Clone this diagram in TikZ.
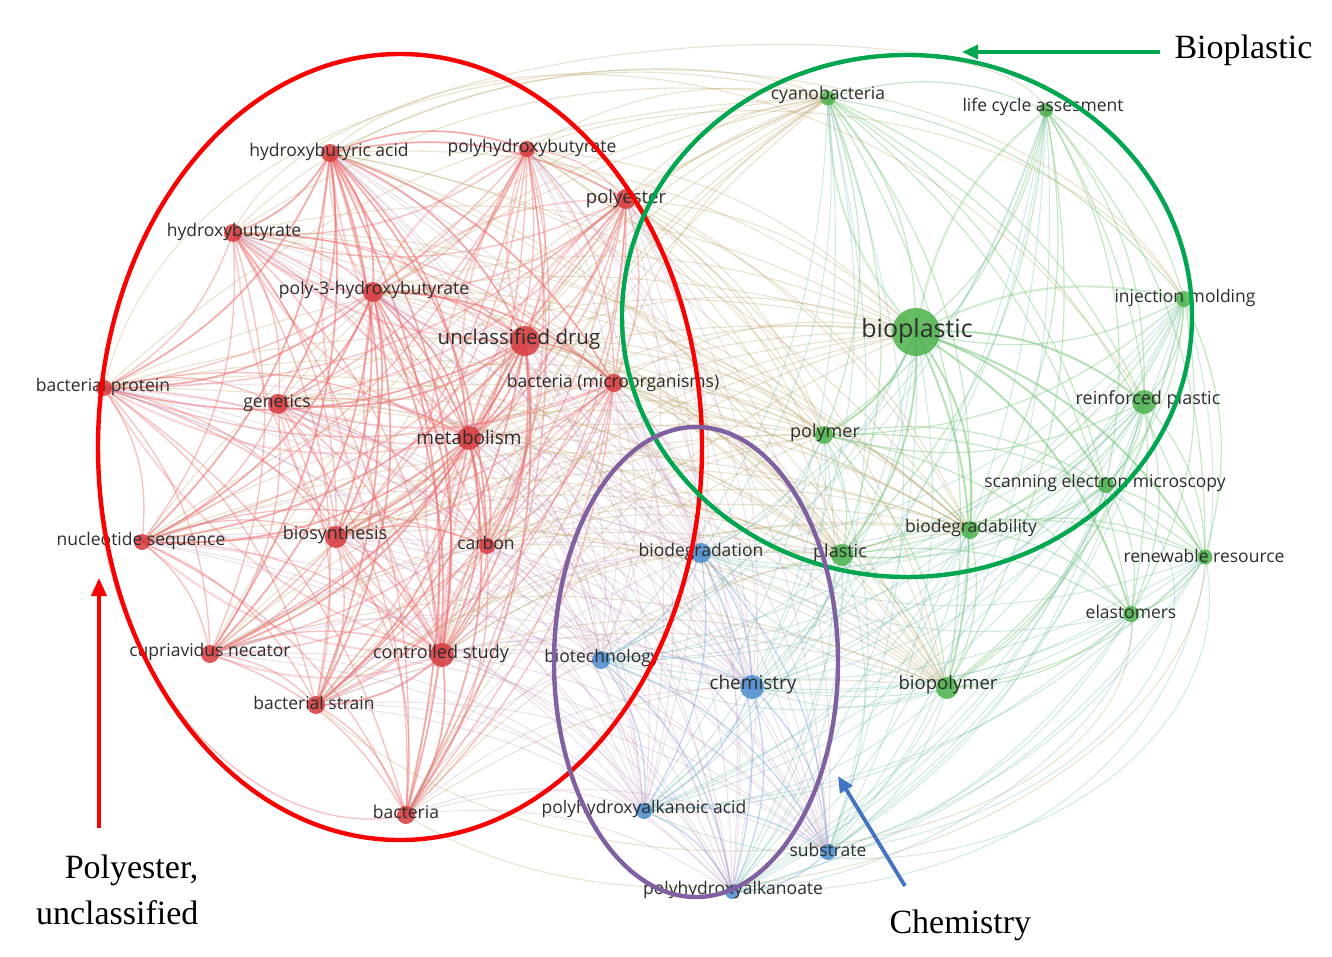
\documentclass[tikz,border=0pt]{standalone}
\usepackage{fontspec}
\setmainfont{Liberation Serif}
\newfontfamily\labfont{Open Sans}
\usetikzlibrary{arrows.meta}
\definecolor{rdot}{RGB}{214,58,62}
\definecolor{gdot}{RGB}{76,178,76}
\definecolor{bdot}{RGB}{74,140,206}
\definecolor{rline}{RGB}{238,105,105}
\definecolor{gline}{RGB}{120,200,120}
\definecolor{bline}{RGB}{130,170,225}
\definecolor{rgline}{RGB}{190,165,105}
\definecolor{rbline}{RGB}{190,150,190}
\definecolor{gbline}{RGB}{120,190,180}
\definecolor{ellred}{RGB}{250,0,0}
\definecolor{ellgreen}{RGB}{0,166,80}
\definecolor{ellpurple}{RGB}{128,96,160}
\definecolor{arrblue}{RGB}{68,114,196}
\definecolor{labtext}{RGB}{45,45,45}
\begin{document}
\begin{tikzpicture}[x=1pt,y=-1pt,
  dotR/.style={circle,fill=rdot,fill opacity=0.85,inner sep=0pt,minimum size=#1},
  dotG/.style={circle,fill=gdot,fill opacity=0.85,inner sep=0pt,minimum size=#1},
  dotB/.style={circle,fill=bdot,fill opacity=0.85,inner sep=0pt,minimum size=#1},
  lbl/.style={font=\labfont\fontsize{#1}{#1}\selectfont,text=labtext,inner sep=0pt},
  lbl/.default=17.5,
  redE/.style={draw=rline,line width=1.3pt,opacity=0.42},
  greenE/.style={draw=gline,line width=1.2pt,opacity=0.42},
  blueE/.style={draw=bline,line width=1.2pt,opacity=0.5},
  rgE/.style={draw=rgline,line width=1.1pt,opacity=0.32},
  rbE/.style={draw=rbline,line width=1pt,opacity=0.3},
  gbE/.style={draw=gbline,line width=1pt,opacity=0.35},
  ell/.style={line width=4.4pt},
  title/.style={font=\fontsize{34}{46}\selectfont,text=black}
]
\useasboundingbox[fill=white] (0,0) rectangle (1332,957);

% ---------- positions ----------
\coordinate (hba) at (330,153);
\coordinate (phb) at (527,149);
\coordinate (pes) at (626,199);
\coordinate (hbr) at (233,233);
\coordinate (p3hb) at (373,292);
\coordinate (ud) at (525,341);
\coordinate (bmo) at (614,383);
\coordinate (bp) at (104,388);
\coordinate (gen) at (278,404);
\coordinate (met) at (469,438);
\coordinate (ns) at (142,542);
\coordinate (bios) at (336,537);
\coordinate (carb) at (487,546);
\coordinate (cn) at (210,654);
\coordinate (cs) at (442,655);
\coordinate (bs) at (316,705);
\coordinate (bact) at (406,815);

\coordinate (cya) at (828,98);
\coordinate (lca) at (1046,110);
\coordinate (inj) at (1184,299);
\coordinate (bio) at (916,332);
\coordinate (rp) at (1144,402);
\coordinate (poly) at (824,435);
\coordinate (sem) at (1106,485);
\coordinate (bdg) at (970,530);
\coordinate (plas) at (842,555);
\coordinate (rr) at (1205,557);
\coordinate (ela) at (1131,614);
\coordinate (biop) at (947,688);

\coordinate (bdn) at (701,553);
\coordinate (btc) at (601,660);
\coordinate (chem) at (752,687);
\coordinate (phaa) at (644,811);
\coordinate (sub) at (828,852);
\coordinate (pha) at (732,892);

\def\redlist{hba,phb,pes,hbr,p3hb,ud,bmo,bp,gen,met,ns,bios,carb,cn,cs,bs,bact}
\def\greenlist{cya,lca,inj,bio,rp,poly,sem,bdg,plas,rr,ela,biop}
\def\bluelist{bdn,btc,chem,phaa,sub,pha}

% ---------- edges ----------
\foreach \a [count=\i] in \redlist {
  \foreach \b [count=\j] in \redlist {
    \ifnum\j>\i \draw[redE] (\a) to[bend left=20] (\b); \fi
  }
}
\foreach \a in {ud,met,p3hb,hba,cs} {
  \foreach \b in \redlist { \draw[redE,line width=2pt,opacity=0.28] (\a) to[bend left=20] (\b); }
}
\foreach \a [count=\i] in \greenlist {
  \foreach \b [count=\j] in \greenlist {
    \ifnum\j>\i \draw[greenE] (\a) to[bend left=20] (\b); \fi
  }
}
\foreach \b in \greenlist { \draw[greenE,line width=2.2pt,opacity=0.32] (bio) to[bend left=20] (\b); }
\foreach \a [count=\i] in \bluelist {
  \foreach \b [count=\j] in \bluelist {
    \ifnum\j>\i \draw[blueE] (\a) to[bend left=20] (\b); \fi
  }
}
\foreach \a in \redlist {
  \foreach \b in {bio,poly,plas,biop,bdg,cya} { \draw[rgE] (\a) to[bend left=20] (\b); }
  \foreach \b in {bdn,btc,chem,phaa,pha,sub} { \draw[rbE] (\a) to[bend left=20] (\b); }
}
\foreach \a in \greenlist {
  \foreach \b in \bluelist { \draw[gbE] (\a) to[bend left=20] (\b); }
}
% long outer arcs
\draw[rgE] (bp) .. controls (200,-20) and (1000,-20) .. (inj);
\draw[rgE] (hbr) .. controls (330,20) and (1000,0) .. (lca);
\draw[rgE] (hba) .. controls (450,30) and (900,10) .. (rp);
\draw[rgE] (hbr) .. controls (400,60) and (700,40) .. (cya);
\draw[rgE] (phb) .. controls (700,80) and (1050,90) .. (inj);
\draw[gbE] (pha) .. controls (1050,900) and (1300,700) .. (inj);
\draw[gbE] (sub) .. controls (1100,820) and (1280,600) .. (sem);
\draw[gbE] (phaa) .. controls (950,950) and (1250,760) .. (rr);
\draw[rgE] (bact) .. controls (700,1000) and (1200,800) .. (rr);
\draw[rgE] (bs) .. controls (600,960) and (1150,850) .. (ela);
\draw[gbE] (pha) .. controls (950,880) and (1150,700) .. (ela);
\draw[redE] (bp) .. controls (60,650) and (250,850) .. (bact);

% ---------- dots ----------
\node[dotR=18pt] (hba-d) at (hba) {};
\node[dotR=16pt] (phb-d) at (phb) {};
\node[dotR=20pt] (pes-d) at (pes) {};
\node[dotR=18pt] (hbr-d) at (hbr) {};
\node[dotR=20pt] (p3hb-d) at (p3hb) {};
\node[dotR=30pt] (ud-d) at (ud) {};
\node[dotR=18pt] (bmo-d) at (bmo) {};
\node[dotR=16pt] (bp-d) at (bp) {};
\node[dotR=20pt] (gen-d) at (gen) {};
\node[dotR=24pt] (met-d) at (met) {};
\node[dotR=16pt] (ns-d) at (ns) {};
\node[dotR=22pt] (bios-d) at (bios) {};
\node[dotR=16pt] (carb-d) at (carb) {};
\node[dotR=18pt] (cn-d) at (cn) {};
\node[dotR=24pt] (cs-d) at (cs) {};
\node[dotR=18pt] (bs-d) at (bs) {};
\node[dotR=18pt] (bact-d) at (bact) {};

\node[dotG=15pt] (cya-d) at (cya) {};
\node[dotG=14pt] (lca-d) at (lca) {};
\node[dotG=16pt] (inj-d) at (inj) {};
\node[dotG=48pt] (bio-d) at (bio) {};
\node[dotG=24pt] (rp-d) at (rp) {};
\node[dotG=18pt] (poly-d) at (poly) {};
\node[dotG=16pt] (sem-d) at (sem) {};
\node[dotG=18pt] (bdg-d) at (bdg) {};
\node[dotG=22pt] (plas-d) at (plas) {};
\node[dotG=15pt] (rr-d) at (rr) {};
\node[dotG=16pt] (ela-d) at (ela) {};
\node[dotG=22pt] (biop-d) at (biop) {};

\node[dotB=20pt] (bdn-d) at (bdn) {};
\node[dotB=18pt] (btc-d) at (btc) {};
\node[dotB=24pt] (chem-d) at (chem) {};
\node[dotB=16pt] (phaa-d) at (phaa) {};
\node[dotB=16pt] (sub-d) at (sub) {};
\node[dotB=14pt] (pha-d) at (pha) {};

% ---------- labels ----------
\node[lbl] (hba-l) at (329,152) {hydroxybutyric acid};
\node[lbl] (phb-l) at (532,148) {polyhydroxybutyrate};
\node[lbl=18.5] (pes-l) at (626,199) {polyester};
\node[lbl] (hbr-l) at (234,232) {hydroxybutyrate};
\node[lbl] (p3hb-l) at (374,290) {poly-3-hydroxybutyrate};
\node[lbl=20.5] (ud-l) at (519,339) {unclassified drug};
\node[lbl] (bmo-l) at (613,383) {bacteria (microorganisms)};
\node[lbl] (bp-l) at (103,387) {bacterial protein};
\node[lbl] (gen-l) at (277,403) {genetics};
\node[lbl=19] (met-l) at (469,437) {metabolism};
\node[lbl] (ns-l) at (141,541) {nucleotide sequence};
\node[lbl=18] (bios-l) at (335,535) {biosynthesis};
\node[lbl] (carb-l) at (486,543) {carbon};
\node[lbl] (cn-l) at (210,652) {cupriavidus necator};
\node[lbl=18] (cs-l) at (441,654) {controlled study};
\node[lbl] (bs-l) at (314,703) {bacterial strain};
\node[lbl] (bact-l) at (406,812) {bacteria};

\node[lbl] (cya-l) at (828,95) {cyanobacteria};
\node[lbl] (lca-l) at (1043,107) {life cycle assesment};
\node[lbl] (inj-l) at (1185,298) {injection molding};
\node[lbl=25] (bio-l) at (917,331) {bioplastic};
\node[lbl=18] (rp-l) at (1148,400) {reinforced plastic};
\node[lbl=18] (poly-l) at (825,433) {polymer};
\node[lbl] (sem-l) at (1105,483) {scanning electron microscopy};
\node[lbl] (bdg-l) at (971,528) {biodegradability};
\node[lbl=18] (plas-l) at (840,553) {plastic};
\node[lbl] (rr-l) at (1204,556) {renewable resource};
\node[lbl] (ela-l) at (1131,612) {elastomers};
\node[lbl=18.5] (biop-l) at (948,685) {biopolymer};

\node[lbl=17.5] (bdn-l) at (701,552) {biodegradation};
\node[lbl] (btc-l) at (602,658) {biotechnology};
\node[lbl=19] (chem-l) at (753,685) {chemistry};
\node[lbl] (phaa-l) at (644,809) {polyhydroxyalkanoic acid};
\node[lbl] (sub-l) at (828,850) {substrate};
\node[lbl] (pha-l) at (733,890) {polyhydroxyalkanoate};

% ---------- cluster ellipses ----------
\draw[ell,ellred] (400,447) ellipse [x radius=302, y radius=393];
\draw[ell,ellgreen] (907,316) ellipse [x radius=285, y radius=261];
\draw[ell,ellpurple] (696,662) ellipse [x radius=142, y radius=235];

% ---------- annotations ----------
\node[title,anchor=west] (tB) at (1171,50) {Bioplastic};
\coordinate (gS) at (1160,52);
\coordinate (gA) at (962,52);
\draw[ellgreen,line width=3.4pt,-{Triangle[length=16pt,width=14pt]}] (gS) -- (gA);

\node[title,anchor=east,align=right] (tP) at (202,890) {Polyester,\\unclassified};
\coordinate (rS) at (99,828);
\coordinate (rA) at (99,578);
\draw[ellred,line width=3.8pt,-{Triangle[length=18pt,width=15pt]}] (rS) -- (rA);

\node[title,anchor=west] (tC) at (886,925) {Chemistry};
\coordinate (bS) at (905,886);
\coordinate (bA) at (838,776);
\draw[arrblue,line width=3.8pt,-{Triangle[length=16pt,width=14pt]}] (bS) -- (bA);
\end{tikzpicture}
\end{document}
